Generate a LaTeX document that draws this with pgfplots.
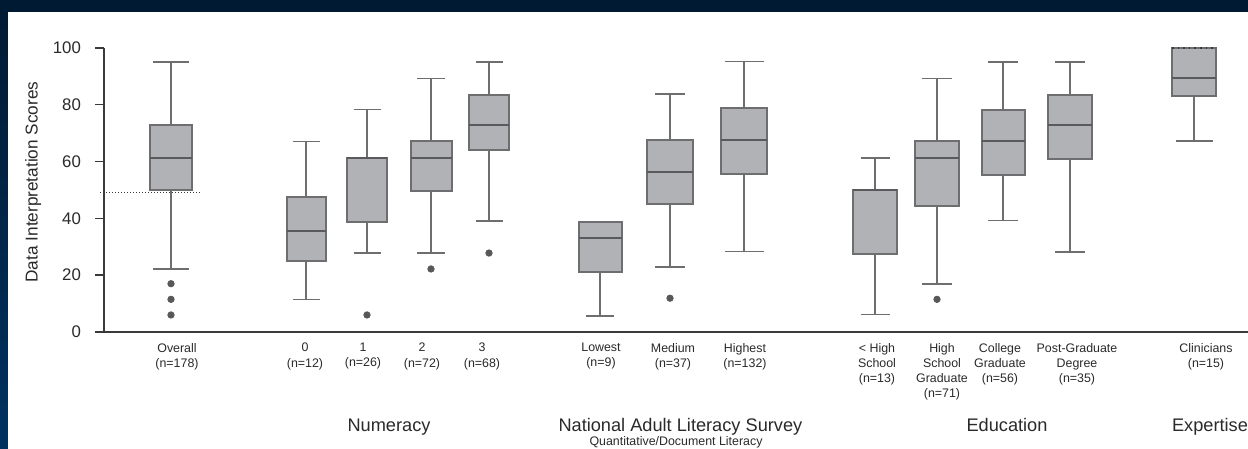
\documentclass[border=0pt]{standalone}
\usepackage{fontspec}
\setmainfont{Liberation Sans}
\usepackage{pgfplots}
\pgfplotsset{compat=1.18}
\usepgfplotslibrary{statistics}
\definecolor{navy}{HTML}{001A33}
\definecolor{navyb}{HTML}{00325F}
\definecolor{boxfill}{HTML}{B1B2B6}
\definecolor{boxedge}{HTML}{6E6E70}
\definecolor{medcol}{HTML}{5A5A5C}
\definecolor{outcol}{HTML}{58585A}
\definecolor{axiscol}{HTML}{3A3A3A}
\definecolor{txt}{HTML}{2A2A2A}
\begin{document}
\begin{tikzpicture}[x=1pt,y=1pt]
\fill[navy] (0,0) rectangle (624,224.5);
\shade[top color=navy, bottom color=navyb] (0,0) rectangle (4,224.5);
\fill[white] (4,0) rectangle (624,218.5);
\begin{axis}[
  at={(52pt,58.5pt)}, anchor=south west,
  scale only axis, width=572pt, height=142pt,
  xmin=0, xmax=1144, ymin=0, ymax=100,
  clip=false,
  axis lines*=left,
  axis line style={draw=axiscol, line width=0.8pt},
  boxplot/draw direction=y,
  ytick={0,20,40,60,80,100},
  ytick style={draw=axiscol, line width=0.7pt},
  tick align=outside,
  major tick length=4.5pt,
  /pgf/number format/assume math mode=true,
  yticklabel style={font=\fontsize{8.4}{10}\selectfont, text=txt, xshift=-3.5pt},
  xtick={73,201,259,318,378,497,569,641,773,838,896,973,1102},
  xticklabels={{Overall\\(n=178)},{0\\(n=12)},{1\\(n=26)},{2\\(n=72)},{3\\(n=68)},
    {Lowest\\(n=9)},{Medium\\(n=37)},{Highest\\(n=132)},
    {< High\\School\\(n=13)},{High\\School\\Graduate\\(n=71)},{College\\Graduate\\(n=56)},{Post-Graduate\\Degree\\(n=35)},
    {Clinicians\\(n=15)}},
  xtick style={draw=none},
  xticklabel style={font=\fontsize{6.2}{7.65}\selectfont, text=txt, align=center, anchor=north, yshift=2.5pt},
  ylabel={Data Interpretation Scores},
  ylabel style={font=\fontsize{8.6}{10}\selectfont, text=txt, at={(axis description cs:-0.062,0.528)}, anchor=center},
  boxplot/every box/.style={fill=boxfill, draw=boxedge, line width=1pt},
  boxplot/every median/.style={draw=medcol, line width=1pt},
  boxplot/every whisker/.style={draw=boxedge, line width=0.8pt},
]
% Overall
\addplot[mark=*, mark size=1.6pt, mark options={fill=outcol, draw=outcol}, boxplot prepared={draw position=67, box extend=42, whisker extend=36,
  lower whisker=22.2, lower quartile=49.9, median=61.3, upper quartile=72.8, upper whisker=95.0}]
  table[row sep=\\, y index=0] {data\\ 17.0\\ 11.5\\ 6.0\\};
% Numeracy 0
\addplot[mark=*, mark size=1.6pt, mark options={fill=outcol, draw=outcol}, boxplot prepared={draw position=202, box extend=39, whisker extend=27,
  lower whisker=11.5, lower quartile=24.9, median=35.6, upper quartile=47.4, upper whisker=67.1}]
  coordinates {};
% Numeracy 1
\addplot[mark=*, mark size=1.6pt, mark options={fill=outcol, draw=outcol}, boxplot prepared={draw position=263, box extend=40, whisker extend=27,
  lower whisker=27.9, lower quartile=38.7, median=61.3, upper quartile=61.3, upper whisker=78.4}]
  table[row sep=\\, y index=0] {data\\ 6.0\\};
% Numeracy 2
\addplot[mark=*, mark size=1.6pt, mark options={fill=outcol, draw=outcol}, boxplot prepared={draw position=327, box extend=41, whisker extend=28,
  lower whisker=27.9, lower quartile=49.8, median=61.3, upper quartile=67.1, upper whisker=89.3}]
  table[row sep=\\, y index=0] {data\\ 22.2\\};
% Numeracy 3
\addplot[mark=*, mark size=1.6pt, mark options={fill=outcol, draw=outcol}, boxplot prepared={draw position=385, box extend=40, whisker extend=27,
  lower whisker=39.1, lower quartile=64.1, median=72.8, upper quartile=83.5, upper whisker=95.0}]
  table[row sep=\\, y index=0] {data\\ 27.8\\};
% Lowest
\addplot[mark=*, mark size=1.6pt, mark options={fill=outcol, draw=outcol}, boxplot prepared={draw position=496, box extend=43, whisker extend=28,
  lower whisker=5.6, lower quartile=21.2, median=33.1, upper quartile=38.7, upper whisker=38.7}]
  coordinates {};
% Medium
\addplot[mark=*, mark size=1.6pt, mark options={fill=outcol, draw=outcol}, boxplot prepared={draw position=566, box extend=46, whisker extend=30,
  lower whisker=22.9, lower quartile=45.1, median=56.2, upper quartile=67.6, upper whisker=83.8}]
  table[row sep=\\, y index=0] {data\\ 11.9\\};
% Highest
\addplot[mark=*, mark size=1.6pt, mark options={fill=outcol, draw=outcol}, boxplot prepared={draw position=640, box extend=46, whisker extend=39,
  lower whisker=28.4, lower quartile=55.8, median=67.6, upper quartile=78.8, upper whisker=95.3}]
  coordinates {};
% < High School
\addplot[mark=*, mark size=1.6pt, mark options={fill=outcol, draw=outcol}, boxplot prepared={draw position=771, box extend=44, whisker extend=29,
  lower whisker=6.1, lower quartile=27.6, median=50.1, upper quartile=50.1, upper whisker=61.3}]
  coordinates {};
% High School Graduate
\addplot[mark=*, mark size=1.6pt, mark options={fill=outcol, draw=outcol}, boxplot prepared={draw position=833, box extend=44, whisker extend=30,
  lower whisker=16.9, lower quartile=44.2, median=61.3, upper quartile=67.1, upper whisker=89.3}]
  table[row sep=\\, y index=0] {data\\ 11.5\\};
% College Graduate
\addplot[mark=*, mark size=1.6pt, mark options={fill=outcol, draw=outcol}, boxplot prepared={draw position=899, box extend=43, whisker extend=30,
  lower whisker=39.2, lower quartile=55.4, median=67.1, upper quartile=78.3, upper whisker=95.0}]
  coordinates {};
% Post-Graduate Degree
\addplot[mark=*, mark size=1.6pt, mark options={fill=outcol, draw=outcol}, boxplot prepared={draw position=966, box extend=44, whisker extend=30,
  lower whisker=28.1, lower quartile=60.9, median=72.8, upper quartile=83.5, upper whisker=95.0}]
  coordinates {};
% Clinicians
\addplot[mark=*, mark size=1.6pt, mark options={fill=outcol, draw=outcol}, boxplot prepared={draw position=1090, box extend=44, whisker extend=37,
  lower whisker=67.3, lower quartile=83.0, median=89.3, upper quartile=100, upper whisker=100}]
  coordinates {};
% dotted reference lines
\addplot[draw=axiscol, densely dotted, line width=0.5pt] coordinates {(-4,49) (96,49)};
\addplot[draw=axiscol, dotted, line width=0.8pt] coordinates {(1068,100) (1112,100)};
\end{axis}
\node[font=\fontsize{9.1}{11}\selectfont, text=txt, anchor=base] at (194.5,8.5) {Numeracy};
\node[font=\fontsize{9.1}{11}\selectfont, text=txt, anchor=base] at (340.2,8.5) {National Adult Literacy Survey};
\node[font=\fontsize{6.2}{7.5}\selectfont, text=txt, anchor=base] at (338,1.5) {Quantitative/Document Literacy};
\node[font=\fontsize{9.1}{11}\selectfont, text=txt, anchor=base] at (503.5,8.5) {Education};
\node[font=\fontsize{9.1}{11}\selectfont, text=txt, anchor=base] at (605,8.5) {Expertise};
\pgfresetboundingbox
\path[use as bounding box] (0,0) rectangle (624,224.5);
\end{tikzpicture}
\end{document}
